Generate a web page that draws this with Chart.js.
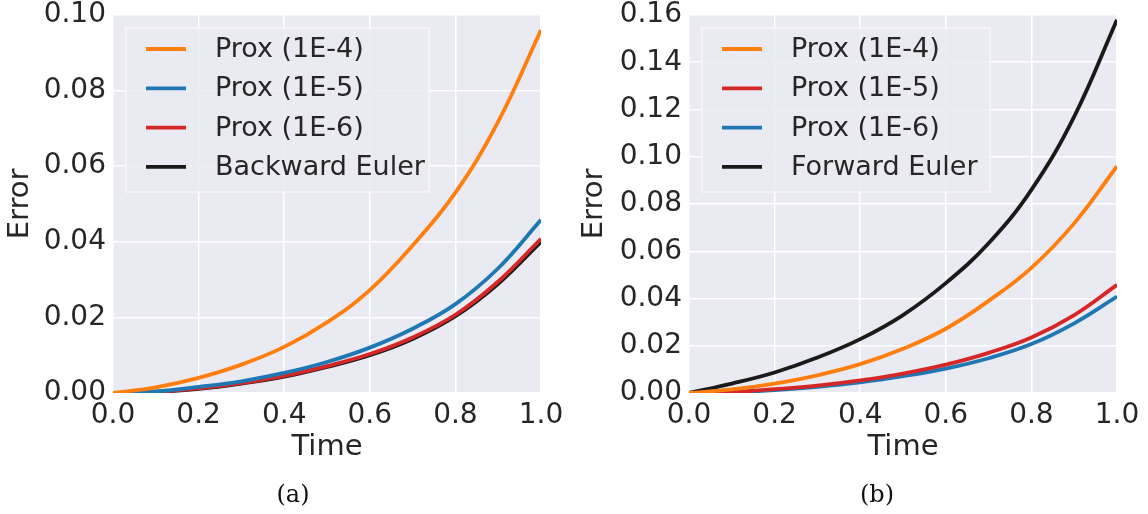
<!DOCTYPE html>
<html>
<head>
<meta charset="utf-8">
<script src="https://cdn.jsdelivr.net/npm/chart.js@4.4.0/dist/chart.umd.min.js"></script>
<style>
  html, body { margin: 0; padding: 0; background: #ffffff; }
  #wrap { position: relative; width: 1148px; height: 514px; overflow: hidden; }
  .panel { position: absolute; top: 0; width: 574px; height: 514px; }
  .caption { position: absolute; top: 480px; font-family: "DejaVu Serif", "Liberation Serif", serif; font-size: 24px; color: #111; transform: translateX(-50%); }
</style>
</head>
<body>
<div id="wrap">
  <div class="panel" style="left:0"><canvas id="chartA" width="574" height="514"></canvas></div>
  <div class="panel" style="left:574px"><canvas id="chartB" width="574" height="514"></canvas></div>
  <div class="caption" style="left:293px">(a)</div>
  <div class="caption" style="left:877px">(b)</div>
</div>
<script>
// time samples and read-off error values
const time = [0, 0.1, 0.2, 0.3, 0.4, 0.5, 0.6, 0.7, 0.8, 0.9, 1.0];
const prox4 = [0, 0.0015, 0.0040, 0.0075, 0.0122, 0.0187, 0.0272, 0.0390, 0.0530, 0.0718, 0.0960];
const prox5 = [0, 0.0004, 0.0016, 0.0031, 0.0053, 0.0082, 0.0120, 0.0170, 0.0235, 0.0330, 0.0458];
const prox6 = [0, 0.0003, 0.0012, 0.0026, 0.0045, 0.0071, 0.0103, 0.0147, 0.0207, 0.0295, 0.0408];
const backwardEuler = [0, 0.0003, 0.0011, 0.0025, 0.0043, 0.0069, 0.0100, 0.0143, 0.0203, 0.0289, 0.0400];
const forwardEuler = [0, 0.0040, 0.0087, 0.0150, 0.0228, 0.0330, 0.0465, 0.0634, 0.0860, 0.1170, 0.1580];

const xTicks = [0, 0.2, 0.4, 0.6, 0.8, 1.0];
const yMaxA = 0.10;
const yMaxB = 0.16;

const ORANGE = '#ff7f0e', BLUE = '#1f77b4', RED = '#d62728', BLACK = '#1a1a1a';
const TEXT = '#262626';
const FONT = '"DejaVu Sans", "Noto Sans", sans-serif';

const toPoints = (ys) => time.map((t, i) => ({ x: t, y: ys[i] }));

const makeSet = (label, ys, color) => ({
    label: label,
    data: toPoints(ys),
    borderColor: color,
    backgroundColor: color,
    borderWidth: 3.8,
    pointRadius: 0,
    fill: false,
    tension: 0.4
});

// grey plot background
const plotBg = {
    id: 'plotBg',
    beforeDraw(chart) {
        const a = chart.chartArea;
        const ctx = chart.ctx;
        ctx.save();
        ctx.fillStyle = '#eaeaf2';
        ctx.fillRect(a.left, a.top, a.right - a.left, a.bottom - a.top);
        ctx.restore();
    }
};

// legend inside the plot, drawn from the dataset labels
const boxLegend = {
    id: 'boxLegend',
    afterDraw(chart, args, opts) {
        const ctx = chart.ctx;
        const a = chart.chartArea;
        const x0 = a.left + opts.dx, y0 = a.top + opts.dy;
        ctx.save();
        ctx.fillStyle = 'rgba(234,234,242,0.85)';
        ctx.strokeStyle = '#f7f7fa';
        ctx.lineWidth = 1.5;
        ctx.fillRect(x0, y0, opts.w, opts.h);
        ctx.strokeRect(x0, y0, opts.w, opts.h);
        ctx.font = '27px ' + FONT;
        ctx.textBaseline = 'middle';
        chart.data.datasets.forEach((ds, i) => {
            const y = y0 + 21 + i * 39.3;
            ctx.strokeStyle = ds.borderColor;
            ctx.lineWidth = 3.8;
            ctx.beginPath();
            ctx.moveTo(x0 + 20, y);
            ctx.lineTo(x0 + 60, y);
            ctx.stroke();
            ctx.fillStyle = TEXT;
            ctx.fillText(ds.label, x0 + 89, y + 1);
        });
        ctx.restore();
    }
};

function makeChart(id, datasets, yMax, yWidth, padRight, legend) {
    return new Chart(document.getElementById(id), {
        type: 'line',
        data: { datasets: datasets },
        plugins: [plotBg, boxLegend],
        options: {
            responsive: false,
            animation: false,
            layout: { padding: { top: 15, right: padRight, bottom: 49, left: 0 } },
            plugins: {
                legend: { display: false },
                tooltip: { enabled: false },
                boxLegend: legend
            },
            scales: {
                x: {
                    type: 'linear',
                    min: 0,
                    max: 1,
                    afterBuildTicks: (s) => { s.ticks = xTicks.map(v => ({ value: v })); },
                    afterFit: (s) => { s.height = 72; s.paddingLeft = 0; s.paddingRight = 0; },
                    grid: { color: '#ffffff', lineWidth: 1.5, drawTicks: false },
                    border: { display: false },
                    ticks: {
                        padding: 6,
                        color: TEXT,
                        font: { family: FONT, size: 28 },
                        maxRotation: 0,
                        callback: (v) => Number(v).toFixed(1)
                    },
                    title: {
                        display: true,
                        text: 'Time',
                        color: TEXT,
                        font: { family: FONT, size: 29 },
                        padding: 0
                    }
                },
                y: {
                    min: 0,
                    max: yMax,
                    afterFit: (s) => { s.width = yWidth; s.paddingTop = 0; s.paddingBottom = 0; },
                    grid: { color: '#ffffff', lineWidth: 1.5, drawTicks: false },
                    border: { display: false },
                    ticks: {
                        stepSize: 0.02,
                        padding: 7,
                        color: TEXT,
                        font: { family: FONT, size: 28 },
                        callback: (v) => Number(v).toFixed(2)
                    },
                    title: {
                        display: true,
                        text: 'Error',
                        color: TEXT,
                        font: { family: FONT, size: 29, lineHeight: 1.4 },
                        padding: 0
                    }
                }
            }
        }
    });
}

makeChart('chartA', [
    makeSet('Prox (1E-4)', prox4, ORANGE),
    makeSet('Prox (1E-5)', prox5, BLUE),
    makeSet('Prox (1E-6)', prox6, RED),
    makeSet('Backward Euler', backwardEuler, BLACK)
], yMaxA, 113, 33, { dx: 13, dy: 13, w: 303, h: 164 });

makeChart('chartB', [
    makeSet('Prox (1E-4)', prox4, ORANGE),
    makeSet('Prox (1E-5)', prox5, RED),
    makeSet('Prox (1E-6)', prox6, BLUE),
    makeSet('Forward Euler', forwardEuler, BLACK)
], yMaxB, 115, 31, { dx: 13, dy: 13, w: 288, h: 164 });
</script>
</body>
</html>
